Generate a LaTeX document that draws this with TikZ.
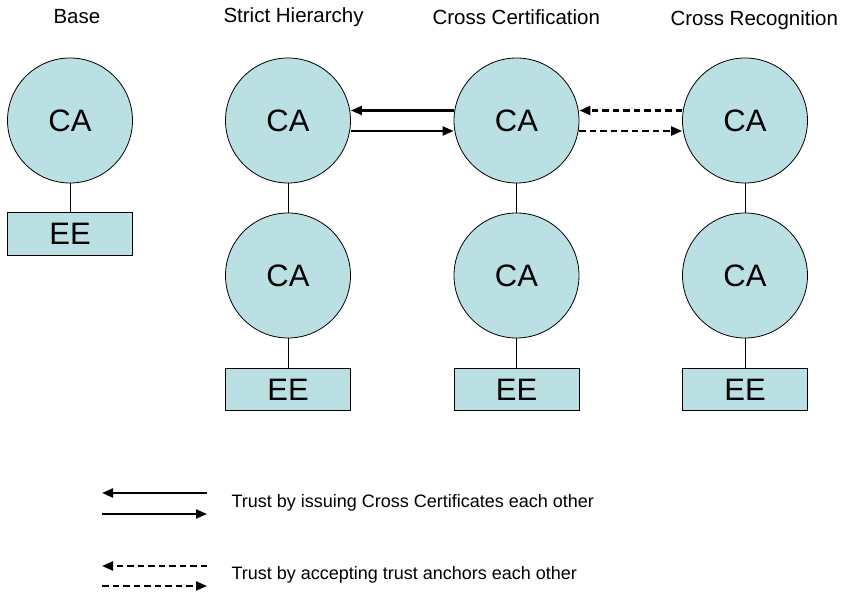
\documentclass[tikz,border=0pt]{standalone}
\usepackage{fontspec}
\setmainfont{Liberation Sans}
\usetikzlibrary{arrows.meta}

\definecolor{caFill}{RGB}{186,224,227}

\tikzset{
  ca/.style={circle,draw,line width=0.8pt,fill=caFill,minimum size=125pt,inner sep=0pt,
    font=\fontsize{31}{36}\selectfont},
  ee/.style={rectangle,draw,line width=0.8pt,fill=caFill,minimum width=125pt,minimum height=42.5pt,
    inner sep=0pt,font=\fontsize{31}{36}\selectfont},
  title/.style={anchor=west,font=\fontsize{20.5}{24}\selectfont},
  legtext/.style={anchor=west,font=\fontsize{18}{22}\selectfont},
  link/.style={line width=0.8pt},
  trust/.style={line width=2.2pt,-{Triangle[length=11pt,width=9pt]}},
  recog/.style={trust,dash pattern=on 6.5pt off 4pt}
}

\begin{document}
\begin{tikzpicture}[x=1pt,y=1pt]
            \useasboundingbox (0,0) rectangle (843,593);
            % column titles
            \node[title] (tBase)   at (50,576)  {Base};
            \node[title] (tStrict) at (220,576) {Strict Hierarchy};
            \node[title] (tCert)   at (429,576) {Cross Certification};
            \node[title] (tRecog)  at (667,573) {Cross Recognition};
            % base
            \node[ca] (baseCA) at (70,472.5) {CA};
            \node[ee] (baseEE) at (70,359) {EE};
            % strict hierarchy
            \node[ca] (shTop) at (288,472.5) {CA};
            \node[ca] (shSub) at (288,317.5) {CA};
            \node[ee] (shEE)  at (288,203.5) {EE};
            % cross certification
            \node[ca] (ccTop) at (516.5,472.5) {CA};
            \node[ca] (ccSub) at (516.5,317.5) {CA};
            \node[ee] (ccEE)  at (516.5,203.5) {EE};
            % cross recognition
            \node[ca] (crTop) at (745,472.5) {CA};
            \node[ca] (crSub) at (745,317.5) {CA};
            \node[ee] (crEE)  at (745,203.5) {EE};
            \draw[link] (baseCA) -- (baseEE);
            \draw[link] (shTop) -- (shSub) -- (shEE);
            \draw[link] (ccTop) -- (ccSub) -- (ccEE);
            \draw[link] (crTop) -- (crSub) -- (crEE);
            % trust between the roots
            \draw[trust] ([yshift=10pt]ccTop.west) -- ([yshift=10pt]shTop.east);
            \draw[trust] ([yshift=-10.5pt]shTop.east) -- ([yshift=-10.5pt]ccTop.west);
            \draw[recog] ([yshift=10pt]crTop.west) -- ([yshift=10pt]ccTop.east);
            \draw[recog] ([yshift=-10.5pt]ccTop.east) -- ([yshift=-10.5pt]crTop.west);
            % legend
            \coordinate (lA) at (207,100);
            \coordinate (lB) at (102,100);
            \coordinate (lC) at (102,79);
            \coordinate (lD) at (207,79);
            \coordinate (lE) at (207,27);
            \coordinate (lF) at (102,27);
            \coordinate (lG) at (102,7);
            \coordinate (lH) at (207,7);
            \draw[trust] (lA) -- (lB);
            \draw[trust] (lC) -- (lD);
            \draw[recog] (lE) -- (lF);
            \draw[recog] (lG) -- (lH);
            \node[legtext] (legCert)  at (228,90) {Trust by issuing Cross Certificates each other};
            \node[legtext] (legRecog) at (228,18) {Trust by accepting trust anchors each other};
        \end{tikzpicture}
\end{document}
